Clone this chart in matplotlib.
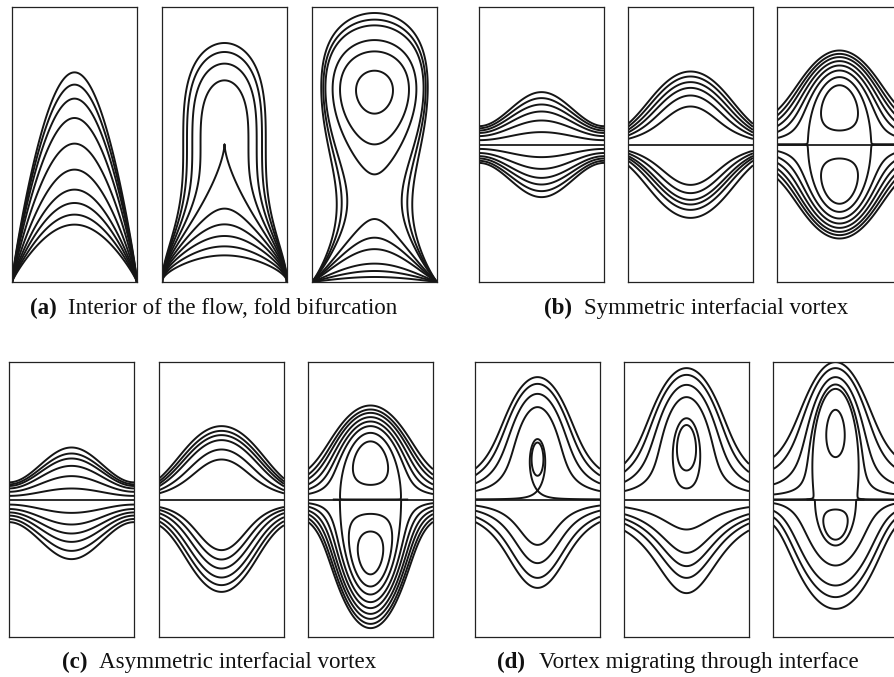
import numpy as np
import matplotlib
matplotlib.use("Agg")
import matplotlib.pyplot as plt

FIG_W, FIG_H, DPI = 894, 677, 100
BOX_W, BOX_H = 125, 275
Y_MAX = 2.2
Y_INTERFACE = 1.1
LINE_COLOR = "#151515"

# ---------------- layout (pixels) ----------------
row_top = {"a": 7, "b": 7, "c": 362, "d": 362}
col_left = {"a": [12, 162, 312], "b": [479, 628, 777],
            "c": [9, 159, 308], "d": [475, 624, 773]}

# ---------------- streamfunction model parameters ----------------
# psi = (k u^3 - a u^2 + u (1 - d sin(pi x)^q)) / (s0 + (1 - s0) sin(pi x)^P(u))
# with P(u) = p_top + (p_bot - p_top) * exp(-u / L)
#            k       a       d      q     s0   p_top p_bot  L
a1_model = [0.0,    0.0,    0.0,   1.0,  0.0, 0.86, 0.86, 1e9]
a2_model = [0.2755, 0.9091, 0.0,   1.0,  0.0, 0.5,  0.5,  1e9]
a3_model = [0.3252, 1.0732, 0.0,   1.0,  0.0, 0.5,  1.0,  0.8]

b1_up_model = [0.0, 0.0, 0.0, 1.0, 0.35, 2.0, 2.0, 1e9]
b1_low_model = [0.0, 0.0, 0.0, 1.0, 0.35, 2.0, 2.0, 1e9]
b2_up_model = [1.153, 0.0, 0.81, 1.0, 0.5, 1.0, 1.0, 1e9]
b2_low_model = [1.153, 0.0, 0.81, 1.0, 0.5, 1.0, 1.0, 1e9]
b3_up_model = [1.457, 0.0, 1.423, 1.0, 1.0, 1.0, 1.0, 1e9]
b3_low_model = [1.457, 0.0, 1.423, 1.0, 1.0, 1.0, 1.0, 1e9]

c1_up_model = [0.0, 0.0, 0.0, 1.0, 0.33, 2.0, 2.0, 1e9]
c1_low_model = [0.0, 0.0, 0.0, 1.0, 0.38, 2.0, 2.0, 1e9]
c2_up_model = [1.153, 0.0, 0.81, 1.0, 0.5, 1.0, 1.0, 1e9]
c2_low_model = [0.6, 0.0, 0.85, 1.0, 0.6, 1.5, 1.5, 1e9]
c3_up_model = [1.376, 0.0, 1.391, 1.0, 0.9, 2.0, 2.0, 1e9]
c3_low_model = [0.677, 0.0, 1.391, 1.0, 0.546, 2.0, 2.0, 1e9]

d1_up_model = [0.565, 0.354, 0.958, 1.0, 1.0, 1.0, 1.0, 1e9]
d1_low_model = [0.337, 0.0, 0.912, 1.0, 1.0, 1.0, 1.0, 1e9]
d2_up_model = [0.616, 0.407, 1.0, 1.0, 1.0, 1.0, 1.0, 1e9]
d2_low_model = [0.158, 0.0, 0.755, 1.0, 1.0, 1.0, 1.0, 1e9]
d3_up_model = [0.593, 0.312, 1.188, 1.2, 1.6, 2.0, 2.0, 1e9]
d3_low_model = [1.108, 0.0, 1.15, 1.0, 0.35, 1.5, 1.5, 1e9]

# ---------------- streamline heights on the vertical centre line ----------------
# (a): height above the bottom wall; (b)-(d): distance from the interface
a1_heights = [0.459, 0.539, 0.632, 0.739, 0.899, 1.107, 1.312, 1.467, 1.579, 1.677]
a2_heights = [0.213, 0.285, 0.368, 0.461, 0.587, 1.100, 1.613, 1.747, 1.840, 1.912]
a3_heights = [0.040, 0.088, 0.147, 0.861, 1.101, 1.347, 2.053, 2.099, 2.152]

b1_up_heights = [0.099, 0.192, 0.264, 0.320, 0.371, 0.419]
b1_low_heights = [0.101, 0.195, 0.267, 0.320, 0.373, 0.421]
b2_up_heights = [0.304, 0.392, 0.453, 0.499, 0.544, 0.584]
b2_low_heights = [0.323, 0.389, 0.443, 0.480, 0.523, 0.587]
b3_up_heights = [0.112, 0.539, 0.592, 0.632, 0.667, 0.699, 0.725, 0.752]
b3_low_heights = [0.112, 0.539, 0.592, 0.632, 0.667, 0.699, 0.725, 0.752]

c1_up_heights = [0.088, 0.187, 0.269, 0.328, 0.368, 0.416]
c1_low_heights = [0.107, 0.200, 0.272, 0.339, 0.411, 0.477]
c2_up_heights = [0.320, 0.400, 0.475, 0.515, 0.549, 0.587]
c2_low_heights = [0.405, 0.480, 0.552, 0.624, 0.685, 0.739]
c3_up_heights = [0.117, 0.533, 0.587, 0.624, 0.659, 0.693, 0.720, 0.752]
c3_low_heights = [0.115, 0.256, 0.760, 0.821, 0.869, 0.915, 0.955, 0.995, 1.029]

d1_up_heights = [0.072, 0.190, 0.739, 0.845, 0.925, 0.979]
d1_low_heights = [0.363, 0.509, 0.627, 0.707]
d2_up_heights = [0.232, 0.650, 0.819, 0.917, 0.997, 1.051]
d2_low_heights = [0.240, 0.427, 0.533, 0.627, 0.749]
d3_up_heights = [0.339, 0.885, 0.920, 0.979, 1.051, 1.099]
d3_low_heights = [0.080, 0.368, 0.528, 0.688, 0.781, 0.875]

# ---------------- captions ----------------
caption_labels = ["(a)", "(b)", "(c)", "(d)"]
caption_texts = ["Interior of the flow, fold bifurcation",
                 "Symmetric interfacial vortex",
                 "Asymmetric interfacial vortex",
                 "Vortex migrating through interface"]
caption_label_x = [30, 544, 62, 497]
caption_text_x = [68, 584, 99, 539]
caption_text_w = [329, 263, 276, 320]
caption_baseline = [314, 314, 668, 668]


def field(x, u, model):
    k, a, d, q, s0, p_top, p_bot, L = model
    sx = np.clip(np.sin(np.pi * x), 0.0, 1.0)
    B = sx ** q
    pw = p_top + (p_bot - p_top) * np.exp(-u / L)
    S = s0 + (1.0 - s0) * sx ** pw
    f = k * u ** 3 - a * u ** 2 + u * (1.0 - d * B)
    return f / np.maximum(S, 1e-7)


def centre_levels(heights, model):
    h = np.asarray(heights, dtype=float)
    lv = field(np.full_like(h, 0.5), h, model)
    return np.unique(np.round(lv, 10))


fig = plt.figure(figsize=(FIG_W / DPI, FIG_H / DPI), dpi=DPI)


def make_axes(panel, i):
    left = col_left[panel][i]
    top = row_top[panel]
    ax = fig.add_axes([left / FIG_W, 1 - (top + BOX_H) / FIG_H, BOX_W / FIG_W, BOX_H / FIG_H])
    ax.set_xlim(0, 1)
    ax.set_ylim(0, Y_MAX)
    ax.set_xticks([])
    ax.set_yticks([])
    for s in ax.spines.values():
        s.set_linewidth(0.9)
        s.set_color("#222222")
    return ax


LW = 1.4
xg = np.linspace(0.0, 1.0, 801)

# ---- panel (a): flow near a wall ----
for i, (model, heights) in enumerate([(a1_model, a1_heights), (a2_model, a2_heights), (a3_model, a3_heights)]):
    ax = make_axes("a", i)
    yg = np.linspace(0.0, Y_MAX, 1321)
    X, Y = np.meshgrid(xg, yg)
    Z = field(X, Y, model)
    ax.contour(X, Y, Z, levels=centre_levels(heights, model), colors=LINE_COLOR,
               linewidths=LW, linestyles="solid")

# ---- panels (b)-(d): two-layer flows ----
two_layer = {
    "b": [(b1_up_model, b1_up_heights, b1_low_model, b1_low_heights),
          (b2_up_model, b2_up_heights, b2_low_model, b2_low_heights),
          (b3_up_model, b3_up_heights, b3_low_model, b3_low_heights)],
    "c": [(c1_up_model, c1_up_heights, c1_low_model, c1_low_heights),
          (c2_up_model, c2_up_heights, c2_low_model, c2_low_heights),
          (c3_up_model, c3_up_heights, c3_low_model, c3_low_heights)],
    "d": [(d1_up_model, d1_up_heights, d1_low_model, d1_low_heights),
          (d2_up_model, d2_up_heights, d2_low_model, d2_low_heights),
          (d3_up_model, d3_up_heights, d3_low_model, d3_low_heights)],
}
ug = np.linspace(1e-4, Y_MAX - Y_INTERFACE, 800)
for panel, items in two_layer.items():
    for i, (mu, hu, ml, hl) in enumerate(items):
        ax = make_axes(panel, i)
        X, U = np.meshgrid(xg, ug)
        Zu = field(X, U, mu)
        ax.contour(X, Y_INTERFACE + U, Zu, levels=centre_levels(hu, mu),
                   colors=LINE_COLOR, linewidths=LW, linestyles="solid")
        Zl = field(X, U, ml)
        ax.contour(X, Y_INTERFACE - U, Zl, levels=centre_levels(hl, ml),
                   colors=LINE_COLOR, linewidths=LW, linestyles="solid")
        ax.axhline(Y_INTERFACE, color=LINE_COLOR, lw=LW * 0.9)

# ---- captions ----
serif = ["Liberation Serif", "DejaVu Serif"]
fig.canvas.draw()
renderer = fig.canvas.get_renderer()
ratios = []
for txt, w in zip(caption_texts, caption_text_w):
    t = fig.text(0, 0, txt, fontsize=10, family=serif)
    bb = t.get_window_extent(renderer=renderer)
    ratios.append(w / bb.width)
    t.remove()
fsize = 10 * float(np.mean(ratios))

for lab, txt, lx, tx, by in zip(caption_labels, caption_texts, caption_label_x,
                                caption_text_x, caption_baseline):
    fig.text(lx / FIG_W, 1 - by / FIG_H, lab, fontsize=fsize, family=serif,
             fontweight="bold", ha="left", va="baseline", color="#111111")
    fig.text(tx / FIG_W, 1 - by / FIG_H, txt, fontsize=fsize, family=serif,
             ha="left", va="baseline", color="#111111")

fig.savefig("out.png", dpi=DPI)
